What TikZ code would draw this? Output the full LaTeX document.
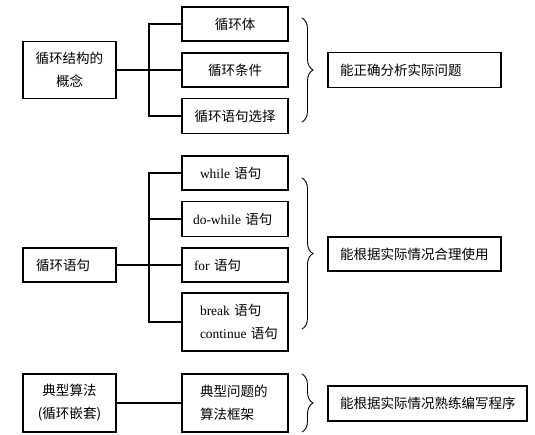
\documentclass[tikz,border=0pt]{standalone}
\usepackage{fontspec}
\setmainfont{Liberation Serif}
\newfontfamily\cjk{Noto Sans CJK SC}
\usetikzlibrary{decorations.pathreplacing}
\begin{document}
\begin{tikzpicture}[x=1pt,y=-1pt,
  box/.style={draw, line width=1.2pt, inner ysep=0pt, font=\fontsize{13.5pt}{23pt}\selectfont},
  cbox/.style={box, inner xsep=4pt, text width=#1, align=center},
  lbox/.style 2 args={box, inner xsep=#1, text width=#2, align=left},
  conn/.style={line width=1.2pt},
  brc/.style={decorate, decoration={brace, amplitude=11pt}, line width=0.9pt}]
\useasboundingbox (0,0) rectangle (535,435);
\coordinate (trunk) at (149,0);
% group 1
\node[cbox=85pt, minimum width=93pt, minimum height=57pt] (A1) at (69.5,70) {\cjk 循环结构的\\概念};
\node[cbox=98pt, minimum width=106pt, minimum height=34pt] (B1) at (235,24) {\cjk 循环体};
\node[cbox=98pt, minimum width=106pt, minimum height=34pt] (B2) at (235,70) {\cjk 循环条件};
\node[cbox=98pt, minimum width=106pt, minimum height=35pt] (B3) at (235,116) {\cjk 循环语句选择};
\draw[conn] (A1.east) -- (A1.east -| trunk);
\draw[conn] (B1.west) -- (B1.west -| trunk) |- (B3.west);
\draw[conn] (B2.west) -- (B2.west -| trunk);
\draw[brc] (302,18) -- (302,122);
\node[lbox={12pt}{149pt}, minimum height=35pt] (R1) at (414.5,70) {\cjk 能正确分析实际问题};
% group 2
\node[lbox={13pt}{67pt}, minimum height=34pt] (A2) at (69.5,265) {\cjk 循环语句};
\node[lbox={18pt}{70pt}, minimum height=34pt] (C1) at (235,173) {while {\cjk 语句}};
\node[lbox={11pt}{84pt}, minimum height=35pt] (C2) at (235,219) {do-while {\cjk 语句}};
\node[lbox={12pt}{82pt}, minimum height=34pt] (C3) at (235,265) {for {\cjk 语句}};
\node[lbox={18pt}{70pt}, minimum height=58pt] (C4) at (235,322) {break {\cjk 语句}\\\mbox{continue {\cjk 语句}}};
\draw[conn] (A2.east) -- (A2.east -| trunk);
\draw[conn] (C1.west) -- (C1.west -| trunk) |- (C4.west);
\draw[conn] (C2.west) -- (C2.west -| trunk);
\draw[conn] (C3.west) -- (C3.west -| trunk);
\draw[brc] (302,178) -- (302,329);
\node[lbox={12pt}{149pt}, minimum height=34pt] (R2) at (414.5,254) {\cjk 能根据实际情况合理使用};
% group 3
\node[cbox=85pt, minimum width=93pt, minimum height=58pt] (A3) at (69.5,403) {\cjk 典型算法\\(循环嵌套)};
\node[lbox={18pt}{70pt}, minimum height=58pt] (D1) at (235,403) {\cjk 典型问题的\\算法框架};
\draw[conn] (A3) -- (D1);
\draw[brc] (302,374) -- (302,432);
\node[lbox={12pt}{175pt}, minimum height=35pt] (R3) at (427.5,403.5) {\cjk 能根据实际情况熟练编写程序};
\end{tikzpicture}
\end{document}
